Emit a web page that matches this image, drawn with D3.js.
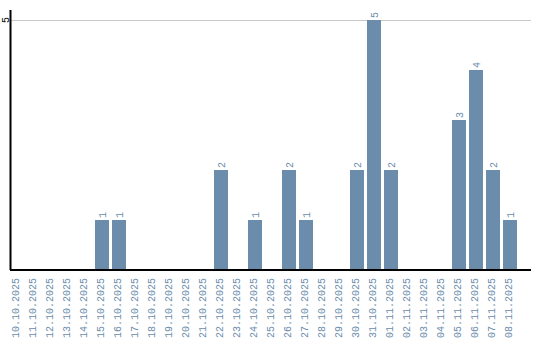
<!DOCTYPE html>
<html>
<head>
<meta charset="utf-8">
<script src="https://cdn.jsdelivr.net/npm/d3@7"></script>
<style>
  html, body { margin: 0; padding: 0; background: #fff; }
  svg { display: block; }
</style>
</head>
<body>
<div id="chart"></div>
<script>
const dates = [
  '10.10.2025', '11.10.2025', '12.10.2025', '13.10.2025', '14.10.2025',
  '15.10.2025', '16.10.2025', '17.10.2025', '18.10.2025', '19.10.2025',
  '20.10.2025', '21.10.2025', '22.10.2025', '23.10.2025', '24.10.2025',
  '25.10.2025', '26.10.2025', '27.10.2025', '28.10.2025', '29.10.2025',
  '30.10.2025', '31.10.2025', '01.11.2025', '02.11.2025', '03.11.2025',
  '04.11.2025', '05.11.2025', '06.11.2025', '07.11.2025', '08.11.2025'
];
const counts = [
  0, 0, 0, 0, 0,
  1, 1, 0, 0, 0,
  0, 0, 2, 0, 1,
  0, 2, 1, 0, 0,
  2, 5, 2, 0, 0,
  0, 3, 4, 2, 1
];
const yTicks = [5];

const width = 540;
const height = 340;
const margin = { top: 10, right: 9, bottom: 70, left: 10 };
const barColor = '#6b8cab';
const textColor = '#6b8cab';

const data = d3.zip(dates, counts);

const svg = d3.select('#chart')
  .append('svg')
  .attr('width', width)
  .attr('height', height);

const x = d3.scaleBand()
  .domain(dates)
  .range([margin.left, margin.left + 30 * 17 - 3])
  .paddingInner(3 / 17)
  .paddingOuter(0)
  .align(0);

const y = d3.scaleLinear()
  .domain([0, 5])
  .range([height - margin.bottom, 20]);

// grid line
svg.append('g')
  .selectAll('line')
  .data(yTicks)
  .join('line')
  .attr('x1', margin.left)
  .attr('x2', width - margin.right)
  .attr('y1', d => y(d))
  .attr('y2', d => y(d))
  .attr('stroke', '#c8c8c8')
  .attr('stroke-width', 1)
  .attr('shape-rendering', 'crispEdges');

// y tick labels, rotated
svg.append('g')
  .selectAll('text')
  .data(yTicks)
  .join('text')
  .attr('transform', d => `translate(8.5, ${y(d)}) rotate(-90)`)
  .attr('text-anchor', 'middle')
  .style('font-family', '"Liberation Mono", "DejaVu Sans Mono", monospace')
  .style('font-size', '10px')
  .attr('fill', '#000')
  .text(d => d);

// bars
svg.append('g')
  .selectAll('rect')
  .data(data.filter(([, v]) => v > 0))
  .join('rect')
  .attr('x', ([d]) => x(d))
  .attr('y', ([, v]) => y(v))
  .attr('width', x.bandwidth())
  .attr('height', ([, v]) => y(0) - y(v))
  .attr('fill', barColor)
  .attr('shape-rendering', 'crispEdges');

// value labels
svg.append('g')
  .selectAll('text')
  .data(data.filter(([, v]) => v > 0))
  .join('text')
  .attr('transform', ([d, v]) =>
    `translate(${x(d) + x.bandwidth() / 2 + 3.6}, ${y(v) - 2}) rotate(-90)`)
  .attr('text-anchor', 'start')
  .style('font-family', '"Liberation Mono", "DejaVu Sans Mono", monospace')
  .style('font-size', '10px')
  .attr('fill', textColor)
  .text(([, v]) => v);

// axes lines
svg.append('line')
  .attr('x1', margin.left + 0.5)
  .attr('x2', margin.left + 0.5)
  .attr('y1', margin.top)
  .attr('y2', y(0))
  .attr('stroke', '#000')
  .attr('stroke-width', 2);

svg.append('line')
  .attr('x1', margin.left)
  .attr('x2', width - margin.right)
  .attr('y1', y(0))
  .attr('y2', y(0))
  .attr('stroke', '#000')
  .attr('stroke-width', 2);

// x tick labels
svg.append('g')
  .selectAll('text')
  .data(dates)
  .join('text')
  .attr('transform', d =>
    `translate(${x(d) + x.bandwidth() / 2 + 1.6}, ${y(0) + 8}) rotate(-90)`)
  .attr('text-anchor', 'end')
  .style('font-family', '"Liberation Mono", "DejaVu Sans Mono", monospace')
  .style('font-size', '10px')
  .attr('fill', textColor)
  .text(d => d);
</script>
</body>
</html>
